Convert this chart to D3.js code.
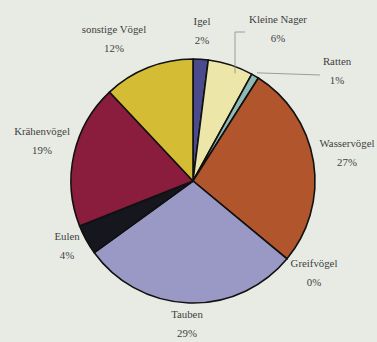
<!DOCTYPE html>
<html>
<head>
<meta charset="utf-8">
<script src="https://cdn.jsdelivr.net/npm/d3@7"></script>
<style>
  html, body { margin: 0; padding: 0; background: #e8ebe4; }
  .label { font-family: 'Liberation Serif', 'DejaVu Serif', serif; font-size: 10.8px; fill: #3e3e3e; }
</style>
</head>
<body>
<div id="chart"></div>
<script>
// Data, clockwise from 12 o'clock
const categories = ['Igel', 'Kleine Nager', 'Ratten', 'Wasservögel', 'Greifvögel', 'Tauben', 'Eulen', 'Krähenvögel', 'sonstige Vögel']
const shares = [2, 6, 1, 27, 0, 29, 4, 19, 12]
const colors = ['#4b4a8c', '#ece7a8', '#8fb9b4', '#b0552c', '#9a99c6', '#9a99c6', '#16161e', '#8a1d3e', '#d5bc35']

const width = 377
const height = 342
const cx = 193
const cy = 181
const radius = 122

// Hand placed label anchors (relative to pie centre)
const labelPos = {
  'Igel': [9, -156],
  'Kleine Nager': [85, -158],
  'Ratten': [144, -116],
  'Wasservögel': [154, -34],
  'Greifvögel': [121, 86],
  'Tauben': [-6, 137],
  'Eulen': [-126, 59],
  'Krähenvögel': [-151, -46],
  'sonstige Vögel': [-79, -148]
}

const svg = d3.select('#chart')
  .append('svg')
  .attr('width', width)
  .attr('height', height)

svg.append('rect')
  .attr('width', width)
  .attr('height', height)
  .attr('fill', '#e8ebe4')

const root = svg.append('g')
  .attr('transform', `translate(${cx}, ${cy})`)

const pie = d3.pie()
  .sort(null)
  .value(d => d.value)

const arcs = pie(categories.map((c, i) => ({ label: c, value: shares[i], color: colors[i] })))

const arc = d3.arc()
  .innerRadius(0)
  .outerRadius(radius)

root.selectAll('path')
  .data(arcs)
  .enter()
  .append('path')
  .attr('d', arc)
  .attr('fill', d => d.data.color)
  .attr('stroke', '#111')
  .attr('stroke-width', 1.6)
  .attr('stroke-linejoin', 'round')

// leader lines for the small slices
function edgePoint (d, r) {
  const a = (d.startAngle + d.endAngle) / 2
  return [Math.sin(a) * r, -Math.cos(a) * r]
}
const nager = arcs[1]
const ratten = arcs[2]
const pn = edgePoint(nager, radius * 0.97)
const pr = edgePoint(ratten, radius * 1.03)

root.append('path')
  .attr('d', d3.line()([[52, -149], [42, -149], [42, pn[1] + 5]]))
  .attr('fill', 'none')
  .attr('stroke', '#888')
  .attr('stroke-width', 0.8)

root.append('path')
  .attr('d', d3.line()([pr, [127, -106]]))
  .attr('fill', 'none')
  .attr('stroke', '#888')
  .attr('stroke-width', 0.8)

const labels = root.selectAll('text.label')
  .data(arcs)
  .enter()
  .append('text')
  .attr('class', 'label')
  .attr('text-anchor', 'middle')
  .attr('transform', d => `translate(${labelPos[d.data.label][0]}, ${labelPos[d.data.label][1]})`)

labels.append('tspan')
  .attr('x', 0)
  .attr('dy', 0)
  .text(d => d.data.label)

labels.append('tspan')
  .attr('x', 0)
  .attr('dy', 19)
  .text(d => d.data.value + '%')
</script>
</body>
</html>
